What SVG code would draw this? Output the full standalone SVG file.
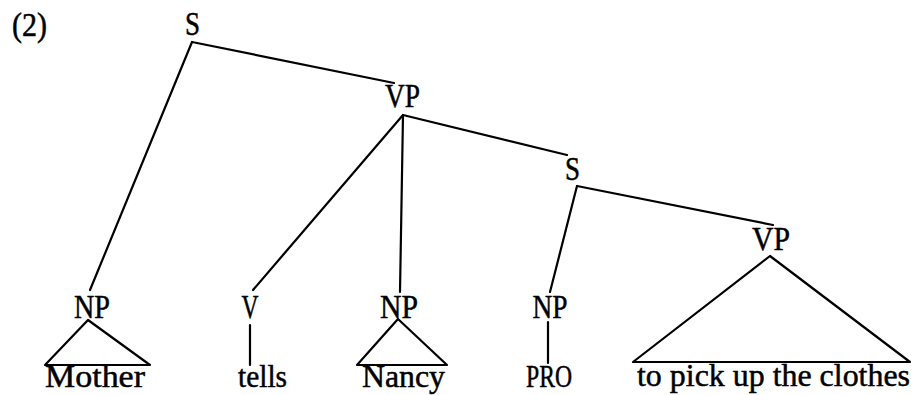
<svg xmlns="http://www.w3.org/2000/svg" width="917" height="395" viewBox="0 0 917 395">
<style>
text{font-family:"Liberation Serif","Times New Roman",serif;font-size:33px;fill:#000;stroke:#000;stroke-width:0.5;text-anchor:middle}
.w{font-size:32px}
.e{stroke:#000;stroke-width:2.2;fill:none;stroke-linecap:round;stroke-linejoin:round}
</style>
<rect width="917" height="395" fill="#fff"/>
<text x="12" y="36" style="text-anchor:start" textLength="35" lengthAdjust="spacingAndGlyphs">(2)</text>
<g id="connectors">
<line class="e" x1="192" y1="42" x2="394" y2="83"/>
<line class="e" x1="192" y1="42" x2="90" y2="290"/>
<line class="e" x1="403" y1="115" x2="253" y2="290"/>
<line class="e" x1="403" y1="115" x2="400" y2="292"/>
<line class="e" x1="403" y1="115" x2="567" y2="155"/>
<line class="e" x1="577" y1="186" x2="550" y2="292"/>
<line class="e" x1="577" y1="186" x2="773" y2="225"/>
<polygon class="e" points="770,256 633,362 910,362"/>
<polygon class="e" points="88,320 45,365 150,365"/>
<line class="e" x1="250" y1="325" x2="250" y2="365"/>
<polygon class="e" points="398,319 357,365 447,365"/>
<line class="e" x1="548" y1="322" x2="548" y2="363"/>
</g>
<g id="S"><text x="192.5" y="35" textLength="15" lengthAdjust="spacingAndGlyphs">S</text></g>
<g id="VP1"><text x="402.5" y="107" textLength="35" lengthAdjust="spacingAndGlyphs">VP</text></g>
<g id="S2"><text x="572.5" y="180" textLength="15" lengthAdjust="spacingAndGlyphs">S</text></g>
<g id="VP2"><text x="771" y="250" textLength="38" lengthAdjust="spacingAndGlyphs">VP</text></g>
<g id="NP1"><text x="92" y="318" textLength="36" lengthAdjust="spacingAndGlyphs">NP</text></g>
<g id="V"><text x="250" y="318" textLength="17" lengthAdjust="spacingAndGlyphs">V</text></g>
<g id="NP2"><text x="399" y="318" textLength="38" lengthAdjust="spacingAndGlyphs">NP</text></g>
<g id="NP3"><text x="550" y="318" textLength="35" lengthAdjust="spacingAndGlyphs">NP</text></g>
<g id="Mother"><text class="w" x="95" y="387" textLength="100" lengthAdjust="spacingAndGlyphs">Mother</text></g>
<g id="tells"><text class="w" x="262.5" y="387" textLength="49" lengthAdjust="spacingAndGlyphs">tells</text></g>
<g id="Nancy"><text class="w" x="403.5" y="387" textLength="83" lengthAdjust="spacingAndGlyphs">Nancy</text></g>
<g id="PRO"><text class="w" x="549" y="387" textLength="46" lengthAdjust="spacingAndGlyphs">PRO</text></g>
<g id="VPtext"><text class="w" x="773.5" y="386" textLength="273" lengthAdjust="spacingAndGlyphs">to pick up the clothes</text></g>
</svg>
